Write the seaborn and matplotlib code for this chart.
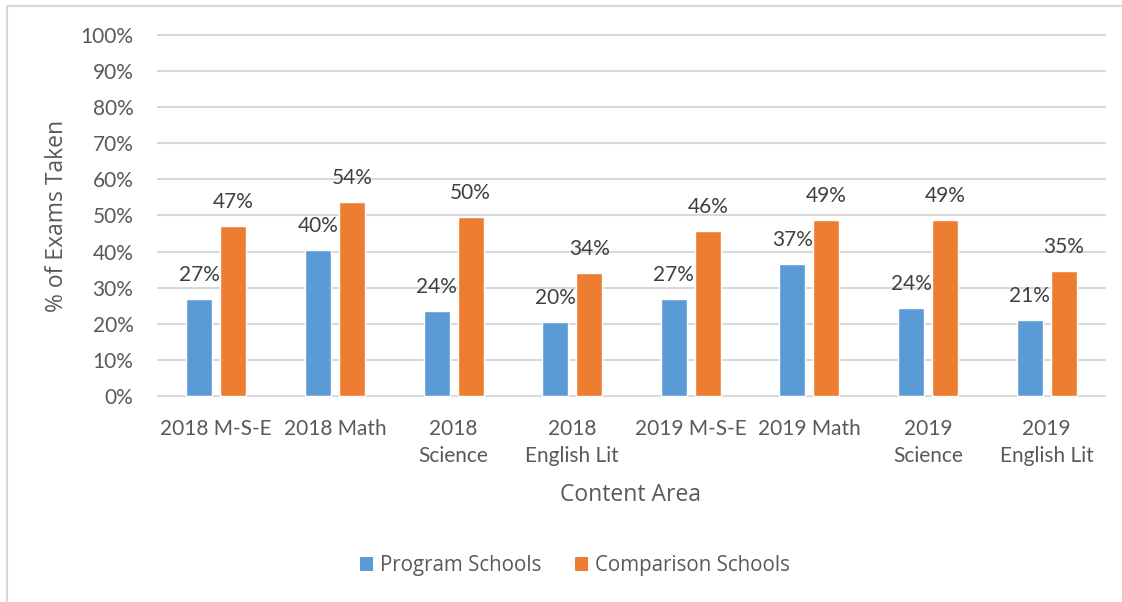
import matplotlib
matplotlib.use("Agg")
import matplotlib.pyplot as plt
from matplotlib.lines import Line2D
from matplotlib.patches import Patch
import pandas as pd
import seaborn as sns

categorias = ["2018 M-S-E", "2018 Math", "2018\nScience", "2018\nEnglish Lit",
              "2019 M-S-E", "2019 Math", "2019\nScience", "2019\nEnglish Lit"]
programa = [0.269, 0.404, 0.235, 0.204, 0.268, 0.366, 0.244, 0.210]
comparacion = [0.471, 0.538, 0.497, 0.340, 0.458, 0.488, 0.488, 0.346]
etiquetas_programa = ["27%", "40%", "24%", "20%", "27%", "37%", "24%", "21%"]
etiquetas_comparacion = ["47%", "54%", "50%", "34%", "46%", "49%", "49%", "35%"]
series = ["Program Schools", "Comparison Schools"]
colores = ["#5B9BD5", "#ED7D31"]

df = pd.DataFrame({
    "categoria": categorias * 2,
    "valor": programa + comparacion,
    "serie": [series[0]] * len(categorias) + [series[1]] * len(categorias),
})

sns.set_theme(style="white")
plt.rcParams["font.family"] = ["Lato", "DejaVu Sans"]

W, H = 1122, 602
fig = plt.figure(figsize=(W / 100, H / 100), dpi=100)
ax = fig.add_axes([157 / W, 1 - 397.8 / H, 949 / W, (397.8 - 33.2) / H])

sns.barplot(data=df, x="categoria", y="valor", hue="serie", palette=colores,
            width=0.573, gap=0.235, saturation=1, legend=False, ax=ax, zorder=3)

for cont, etiquetas in zip(ax.containers, [etiquetas_programa, etiquetas_comparacion]):
    ax.bar_label(cont, labels=etiquetas, padding=10, fontsize=15, color="#404040")

ax.set_ylim(-0.005, 1.005)
ax.set_xlim(-0.5, 7.5)
ax.set_yticks([i / 10 for i in range(11)])
ax.set_yticklabels([f"{i * 10}%" for i in range(11)])
ax.yaxis.grid(True, color="#D9D9D9", linewidth=1.5, zorder=0)
ax.set_axisbelow(True)
for s in ax.spines.values():
    s.set_visible(False)
ax.tick_params(axis="y", length=0, pad=17, labelsize=15, labelcolor="#595959")
ax.tick_params(axis="x", length=0, pad=15, labelsize=15, labelcolor="#595959")
for t in ax.get_xticklabels():
    t.set_linespacing(1.45)
ax.set_xlabel("")
ax.set_ylabel("")

fig.text(57 / W, 1 - 216 / H, "% of Exams Taken", rotation=90, ha="center", va="center",
         fontsize=16.5, color="#595959", family=["Open Sans", "DejaVu Sans"])
fig.text(631 / W, 1 - 495 / H, "Content Area", ha="center", va="center",
         fontsize=16.5, color="#595959", family=["Open Sans", "DejaVu Sans"])

handles = [Patch(facecolor=c, edgecolor="none") for c in colores]
fig.legend(handles, series, loc="center", bbox_to_anchor=(575 / W, 1 - 566 / H), ncol=2,
           frameon=False, handlelength=0.65, handleheight=0.65, handletextpad=0.35,
           columnspacing=1.6, prop={"family": "Open Sans", "size": 14.8}, labelcolor="#595959")

# borde del area del grafico
fig.add_artist(Line2D([7 / W, 1], [1 - 6 / H, 1 - 6 / H], transform=fig.transFigure,
                      color="#D9D9D9", linewidth=1.5))
fig.add_artist(Line2D([7 / W, 7 / W], [0, 1 - 6 / H], transform=fig.transFigure,
                      color="#D9D9D9", linewidth=1.5))

fig.savefig("out.png", dpi=100, facecolor="white")
